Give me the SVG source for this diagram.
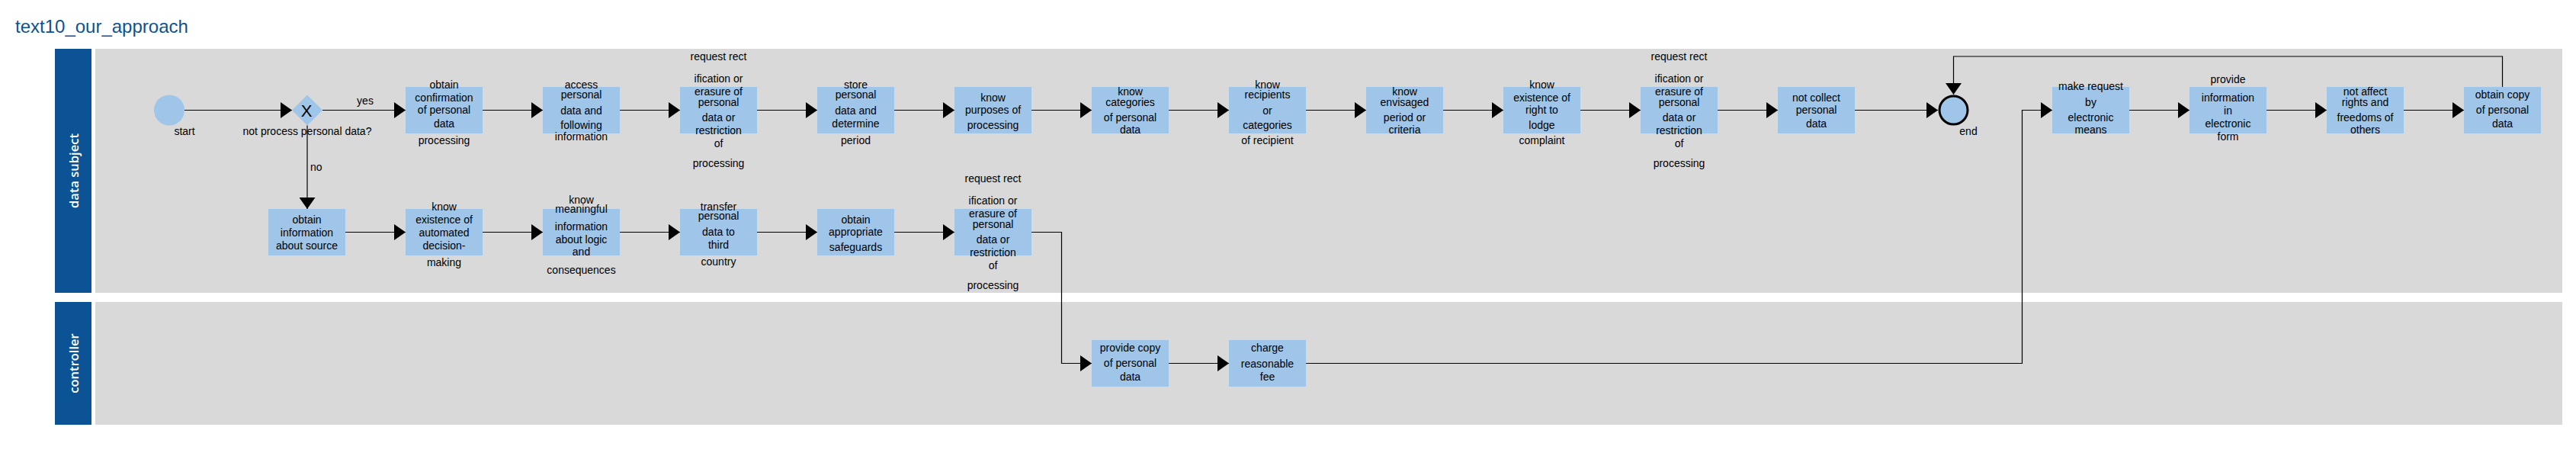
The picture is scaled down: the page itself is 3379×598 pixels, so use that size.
<svg xmlns="http://www.w3.org/2000/svg" width="3379" height="598" viewBox="0 0 3379 598">
<style>
.lane{fill:#d9d9d9}
.lbl{fill:#0b5394}
.lt{fill:#ffffff;font-family:"Open Sans",sans-serif;font-size:16.5px;font-weight:600;text-anchor:middle;dominant-baseline:central}
.box{fill:#9fc5e8}
.t{font-family:"Liberation Sans",Arial,sans-serif;font-size:14px;fill:#000;text-anchor:middle}
.ta{font-family:"Liberation Sans",Arial,sans-serif;font-size:14px;fill:#000}
.c{fill:none;stroke:#000;stroke-width:1.2}
</style>
<defs>
<marker id="arr" markerUnits="userSpaceOnUse" markerWidth="15" markerHeight="21" refX="15" refY="10.5" orient="auto">
<path d="M0,0 L15,10.5 L0,21 z" fill="#000"/>
</marker>
</defs>
<rect width="3379" height="598" fill="#ffffff"/>
<text x="20" y="43" font-family="Liberation Sans,Arial,sans-serif" font-size="24" fill="#0b5394">text10_our_approach</text>

<g id="lane-data-subject">
<rect class="lbl" x="72" y="64" width="48" height="320"/>
<rect class="lane" x="125" y="64" width="3236" height="320"/>
<text class="lt" transform="translate(96,224) rotate(-90)">data subject</text>
</g>
<g id="lane-controller">
<rect class="lbl" x="72" y="396" width="48" height="161"/>
<rect class="lane" x="125" y="396" width="3236" height="161"/>
<text class="lt" transform="translate(96,476.5) rotate(-90)">controller</text>
</g>

<g id="connectors">
<path class="c" d="M242,144.5 H383" marker-end="url(#arr)"/>
<path class="c" d="M423,144.5 H532" marker-end="url(#arr)"/>
<path class="c" d="M403,164.5 V274" marker-end="url(#arr)"/>
<path class="c" d="M633,144.5 H712" marker-end="url(#arr)"/>
<path class="c" d="M813,144.5 H892" marker-end="url(#arr)"/>
<path class="c" d="M993,144.5 H1072" marker-end="url(#arr)"/>
<path class="c" d="M1173,144.5 H1252" marker-end="url(#arr)"/>
<path class="c" d="M1353,144.5 H1432" marker-end="url(#arr)"/>
<path class="c" d="M1533,144.5 H1612" marker-end="url(#arr)"/>
<path class="c" d="M1713,144.5 H1792" marker-end="url(#arr)"/>
<path class="c" d="M1893,144.5 H1972" marker-end="url(#arr)"/>
<path class="c" d="M2073,144.5 H2152" marker-end="url(#arr)"/>
<path class="c" d="M2253,144.5 H2332" marker-end="url(#arr)"/>
<path class="c" d="M2433,144.5 H2542" marker-end="url(#arr)"/>
<path class="c" d="M2793,144.5 H2872" marker-end="url(#arr)"/>
<path class="c" d="M2973,144.5 H3052" marker-end="url(#arr)"/>
<path class="c" d="M3153,144.5 H3232" marker-end="url(#arr)"/>
<path class="c" d="M3282.5,114 V74 H2562.5 V124" marker-end="url(#arr)"/>
<path class="c" d="M453,304.5 H532" marker-end="url(#arr)"/>
<path class="c" d="M633,304.5 H712" marker-end="url(#arr)"/>
<path class="c" d="M813,304.5 H892" marker-end="url(#arr)"/>
<path class="c" d="M993,304.5 H1072" marker-end="url(#arr)"/>
<path class="c" d="M1173,304.5 H1252" marker-end="url(#arr)"/>
<path class="c" d="M1353,304.5 H1392.5 V476.5 H1432" marker-end="url(#arr)"/>
<path class="c" d="M1533,476.5 H1612" marker-end="url(#arr)"/>
<path class="c" d="M1713,476.5 H2652.5 V144.5 H2692" marker-end="url(#arr)"/>
<text class="t" x="479" y="137">yes</text>
<text class="ta" x="407" y="224">no</text>
</g>

<g id="start">
<circle cx="222" cy="144.5" r="20" fill="#9fc5e8"/>
<text class="t" x="242" y="177">start</text>
</g>
<g id="gateway">
<path d="M403,124.5 L423,144.5 L403,164.5 L383,144.5 z" fill="#9fc5e8"/>
<text x="402" y="153" font-family="Liberation Sans,Arial,sans-serif" font-size="22" text-anchor="middle" fill="#000">X</text>
<text class="t" x="403" y="177">not process personal data?</text>
</g>
<g id="end">
<circle cx="2562.5" cy="144.5" r="18.5" fill="#9fc5e8" stroke="#000" stroke-width="3"/>
<text class="t" x="2582" y="177">end</text>
</g>

<g id="n1"><rect class="box" x="532" y="114" width="101" height="61"/>
<text class="t"><tspan x="582.5" y="116">obtain</tspan><tspan x="582.5" y="133">confirmation</tspan><tspan x="582.5" y="149">of personal</tspan><tspan x="582.5" y="167">data</tspan><tspan x="582.5" y="189">processing</tspan></text></g>
<g id="n2"><rect class="box" x="712" y="114" width="101" height="61"/>
<text class="t"><tspan x="762.5" y="116">access</tspan><tspan x="762.5" y="129">personal</tspan><tspan x="762.5" y="150">data and</tspan><tspan x="762.5" y="169">following</tspan><tspan x="762.5" y="184">information</tspan></text></g>
<g id="n3"><rect class="box" x="892" y="114" width="101" height="61"/>
<text class="t"><tspan x="942.5" y="79">request rect</tspan><tspan x="942.5" y="108">ification or</tspan><tspan x="942.5" y="125">erasure of</tspan><tspan x="942.5" y="139">personal</tspan><tspan x="942.5" y="159">data or</tspan><tspan x="942.5" y="176">restriction</tspan><tspan x="942.5" y="193">of</tspan><tspan x="942.5" y="219">processing</tspan></text></g>
<g id="n4"><rect class="box" x="1072" y="114" width="101" height="61"/>
<text class="t"><tspan x="1122.5" y="116">store</tspan><tspan x="1122.5" y="129">personal</tspan><tspan x="1122.5" y="150">data and</tspan><tspan x="1122.5" y="167">determine</tspan><tspan x="1122.5" y="189">period</tspan></text></g>
<g id="n5"><rect class="box" x="1252" y="114" width="101" height="61"/>
<text class="t"><tspan x="1302.5" y="133">know</tspan><tspan x="1302.5" y="149">purposes of</tspan><tspan x="1302.5" y="169">processing</tspan></text></g>
<g id="n6"><rect class="box" x="1432" y="114" width="101" height="61"/>
<text class="t"><tspan x="1482.5" y="125">know</tspan><tspan x="1482.5" y="139">categories</tspan><tspan x="1482.5" y="159">of personal</tspan><tspan x="1482.5" y="175">data</tspan></text></g>
<g id="n7"><rect class="box" x="1612" y="114" width="101" height="61"/>
<text class="t"><tspan x="1662.5" y="116">know</tspan><tspan x="1662.5" y="129">recipients</tspan><tspan x="1662.5" y="150">or</tspan><tspan x="1662.5" y="169">categories</tspan><tspan x="1662.5" y="189">of recipient</tspan></text></g>
<g id="n8"><rect class="box" x="1792" y="114" width="101" height="61"/>
<text class="t"><tspan x="1842.5" y="125">know</tspan><tspan x="1842.5" y="139">envisaged</tspan><tspan x="1842.5" y="159">period or</tspan><tspan x="1842.5" y="175">criteria</tspan></text></g>
<g id="n9"><rect class="box" x="1972" y="114" width="101" height="61"/>
<text class="t"><tspan x="2022.5" y="116">know</tspan><tspan x="2022.5" y="133">existence of</tspan><tspan x="2022.5" y="149">right to</tspan><tspan x="2022.5" y="169">lodge</tspan><tspan x="2022.5" y="189">complaint</tspan></text></g>
<g id="n10"><rect class="box" x="2152" y="114" width="101" height="61"/>
<text class="t"><tspan x="2202.5" y="79">request rect</tspan><tspan x="2202.5" y="108">ification or</tspan><tspan x="2202.5" y="125">erasure of</tspan><tspan x="2202.5" y="139">personal</tspan><tspan x="2202.5" y="159">data or</tspan><tspan x="2202.5" y="176">restriction</tspan><tspan x="2202.5" y="193">of</tspan><tspan x="2202.5" y="219">processing</tspan></text></g>
<g id="n11"><rect class="box" x="2332" y="114" width="101" height="61"/>
<text class="t"><tspan x="2382.5" y="133">not collect</tspan><tspan x="2382.5" y="149">personal</tspan><tspan x="2382.5" y="167">data</tspan></text></g>
<g id="n12"><rect class="box" x="2692" y="114" width="101" height="61"/>
<text class="t"><tspan x="2742.5" y="118">make request</tspan><tspan x="2742.5" y="139">by</tspan><tspan x="2742.5" y="159">electronic</tspan><tspan x="2742.5" y="175">means</tspan></text></g>
<g id="n13"><rect class="box" x="2872" y="114" width="101" height="61"/>
<text class="t"><tspan x="2922.5" y="109">provide</tspan><tspan x="2922.5" y="133">information</tspan><tspan x="2922.5" y="150">in</tspan><tspan x="2922.5" y="167">electronic</tspan><tspan x="2922.5" y="184">form</tspan></text></g>
<g id="n14"><rect class="box" x="3052" y="114" width="101" height="61"/>
<text class="t"><tspan x="3102.5" y="125">not affect</tspan><tspan x="3102.5" y="139">rights and</tspan><tspan x="3102.5" y="159">freedoms of</tspan><tspan x="3102.5" y="175">others</tspan></text></g>
<g id="n15"><rect class="box" x="3232" y="114" width="101" height="61"/>
<text class="t"><tspan x="3282.5" y="129">obtain copy</tspan><tspan x="3282.5" y="149">of personal</tspan><tspan x="3282.5" y="167">data</tspan></text></g>

<g id="m1"><rect class="box" x="352" y="274" width="101" height="61"/>
<text class="t"><tspan x="402.5" y="293">obtain</tspan><tspan x="402.5" y="310">information</tspan><tspan x="402.5" y="327">about source</tspan></text></g>
<g id="m2"><rect class="box" x="532" y="274" width="101" height="61"/>
<text class="t"><tspan x="582.5" y="276">know</tspan><tspan x="582.5" y="293">existence of</tspan><tspan x="582.5" y="310">automated</tspan><tspan x="582.5" y="327">decision-</tspan><tspan x="582.5" y="349">making</tspan></text></g>
<g id="m3"><rect class="box" x="712" y="274" width="101" height="61"/>
<text class="t"><tspan x="762.5" y="267">know</tspan><tspan x="762.5" y="279">meaningful</tspan><tspan x="762.5" y="302">information</tspan><tspan x="762.5" y="319">about logic</tspan><tspan x="762.5" y="335">and</tspan><tspan x="762.5" y="359">consequences</tspan></text></g>
<g id="m4"><rect class="box" x="892" y="274" width="101" height="61"/>
<text class="t"><tspan x="942.5" y="276">transfer</tspan><tspan x="942.5" y="288">personal</tspan><tspan x="942.5" y="309">data to</tspan><tspan x="942.5" y="326">third</tspan><tspan x="942.5" y="348">country</tspan></text></g>
<g id="m5"><rect class="box" x="1072" y="274" width="101" height="61"/>
<text class="t"><tspan x="1122.5" y="293">obtain</tspan><tspan x="1122.5" y="309">appropriate</tspan><tspan x="1122.5" y="329">safeguards</tspan></text></g>
<g id="m6"><rect class="box" x="1252" y="274" width="101" height="61"/>
<text class="t"><tspan x="1302.5" y="239">request rect</tspan><tspan x="1302.5" y="268">ification or</tspan><tspan x="1302.5" y="285">erasure of</tspan><tspan x="1302.5" y="299">personal</tspan><tspan x="1302.5" y="319">data or</tspan><tspan x="1302.5" y="336">restriction</tspan><tspan x="1302.5" y="353">of</tspan><tspan x="1302.5" y="379">processing</tspan></text></g>

<g id="c1"><rect class="box" x="1432" y="446" width="101" height="61"/>
<text class="t"><tspan x="1482.5" y="461">provide copy</tspan><tspan x="1482.5" y="481">of personal</tspan><tspan x="1482.5" y="499">data</tspan></text></g>
<g id="c2"><rect class="box" x="1612" y="446" width="101" height="61"/>
<text class="t"><tspan x="1662.5" y="461">charge</tspan><tspan x="1662.5" y="482">reasonable</tspan><tspan x="1662.5" y="499">fee</tspan></text></g>
</svg>
